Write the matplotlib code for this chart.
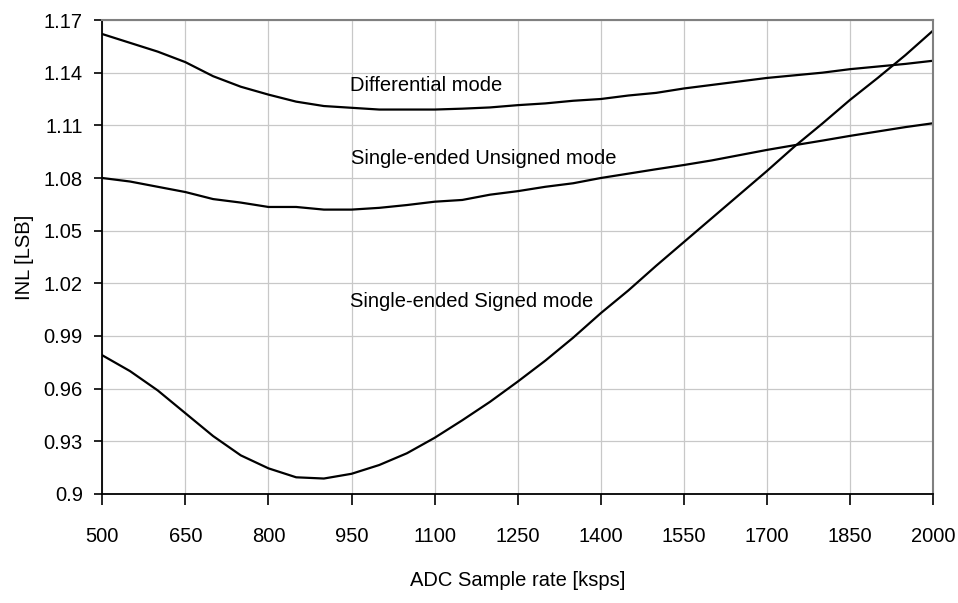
import matplotlib
matplotlib.use("Agg")
import matplotlib.pyplot as plt

sample_rate = list(range(500, 2001, 50))

differential = [1.162, 1.157, 1.152, 1.146, 1.138, 1.132, 1.1275, 1.1235, 1.121, 1.120,
                1.119, 1.119, 1.119, 1.1195, 1.1202, 1.1215, 1.1225, 1.124, 1.125, 1.127,
                1.1285, 1.131, 1.133, 1.135, 1.137, 1.1385, 1.140, 1.142, 1.1435, 1.145, 1.1468]

unsigned = [1.080, 1.078, 1.075, 1.072, 1.068, 1.066, 1.0635, 1.0635, 1.062, 1.062,
            1.063, 1.0646, 1.0665, 1.0675, 1.0705, 1.0725, 1.075, 1.077, 1.080, 1.0825,
            1.085, 1.0874, 1.090, 1.093, 1.096, 1.0987, 1.1013, 1.104, 1.1065, 1.109, 1.1112]

signed = [0.979, 0.970, 0.959, 0.946, 0.933, 0.922, 0.9146, 0.9095, 0.9088, 0.9115,
          0.9165, 0.9232, 0.932, 0.942, 0.9525, 0.964, 0.976, 0.989, 1.003, 1.016,
          1.030, 1.0435, 1.057, 1.0705, 1.084, 1.098, 1.111, 1.1245, 1.137, 1.150, 1.164]

x_ticks = list(range(500, 2001, 150))
y_ticks = [0.9, 0.93, 0.96, 0.99, 1.02, 1.05, 1.08, 1.11, 1.14, 1.17]
y_tick_labels = ["0.9", "0.93", "0.96", "0.99", "1.02", "1.05", "1.08", "1.11", "1.14", "1.17"]

series_labels = ["Differential mode", "Single-ended Unsigned mode", "Single-ended Signed mode"]

fsize = 14.5
plt.rcParams["font.family"] = ["Liberation Sans", "DejaVu Sans"]

fig = plt.figure(figsize=(9.58, 6.03), dpi=100)
ax = fig.add_axes([0.1068, 0.1808, 0.974 - 0.1068, 0.9668 - 0.1808])

for ys in (differential, unsigned, signed):
    ax.plot(sample_rate, ys, color="black", lw=1.6, solid_joinstyle="round")

ax.set_xlim(500, 2000)
ax.set_ylim(0.9, 1.17)
ax.set_xticks(x_ticks)
ax.set_xticklabels([str(v) for v in x_ticks])
ax.set_yticks(y_ticks)
ax.set_yticklabels(y_tick_labels)
ax.grid(True, color="#c8c8c8", lw=0.9)
ax.set_axisbelow(True)

for s in ("left", "bottom"):
    ax.spines[s].set_color("black")
    ax.spines[s].set_linewidth(1.3)
for s in ("top", "right"):
    ax.spines[s].set_color("#808080")
    ax.spines[s].set_linewidth(1.5)

ax.tick_params(axis="x", direction="out", length=8, width=1.2, pad=16, labelsize=fsize)
ax.tick_params(axis="y", direction="out", length=6, width=1.2, pad=8, labelsize=fsize)

ax.text(947, 1.1297, series_labels[0], fontsize=fsize, ha="left", va="baseline")
ax.text(949, 1.088, series_labels[1], fontsize=fsize, ha="left", va="baseline")
ax.text(947, 1.0063, series_labels[2], fontsize=fsize, ha="left", va="baseline")

fig.text(518 / 958, 1 - 580 / 603, "ADC Sample rate [ksps]", fontsize=fsize, ha="center", va="center")
fig.text(24 / 958, 1 - 257 / 603, "INL [LSB]", fontsize=fsize, ha="center", va="center", rotation=90)

fig.savefig("out.png", dpi=100)
